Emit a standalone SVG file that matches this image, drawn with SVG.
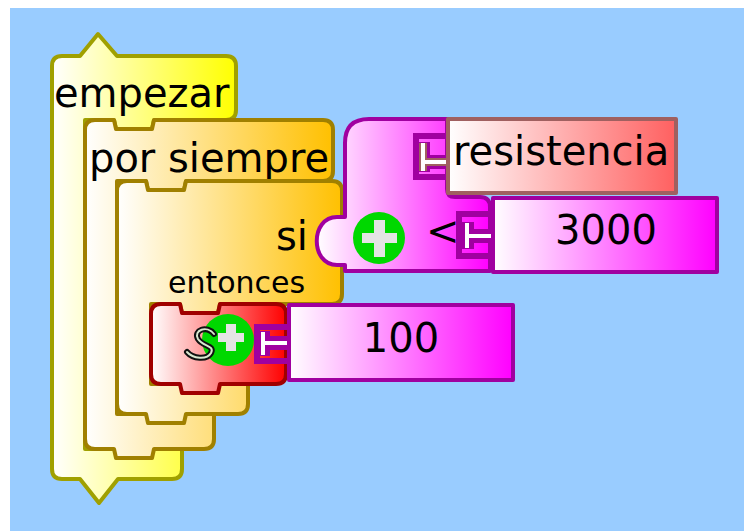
<svg xmlns="http://www.w3.org/2000/svg" width="744" height="531" viewBox="0 0 744 531">
<defs>
<linearGradient id="gY" x1="0" y1="0" x2="1" y2="0"><stop offset="0" stop-color="#ffffff"/><stop offset="1" stop-color="#ffff00"/></linearGradient>
<linearGradient id="gO" x1="0" y1="0" x2="1" y2="0"><stop offset="0" stop-color="#ffffff"/><stop offset="1" stop-color="#ffc000"/></linearGradient>
<linearGradient id="gR" x1="0" y1="0" x2="1" y2="0"><stop offset="0" stop-color="#ffffff"/><stop offset="1" stop-color="#ff0000"/></linearGradient>
<linearGradient id="gM" x1="0" y1="0" x2="1" y2="0"><stop offset="0" stop-color="#ffffff"/><stop offset="1" stop-color="#ff00ff"/></linearGradient>
<linearGradient id="gS" x1="0" y1="0" x2="1" y2="0"><stop offset="0" stop-color="#ffffff"/><stop offset="1" stop-color="#ff6060"/></linearGradient>
</defs>
<style>
.t{font-family:"DejaVu Sans","Liberation Sans",sans-serif;font-size:40px;fill:#000}
.ts{font-size:30px}
.blk{stroke-width:4;stroke-linejoin:round}
.yel{fill:url(#gY);stroke:#a0a000}
.org{fill:url(#gO);stroke:#a08000}
.red{fill:url(#gR);stroke:#a00000}
.mag{fill:url(#gM);stroke:#a000a0}
.sen{fill:url(#gS);stroke:#a06060}
.brk{fill:none;stroke:#a000a0;stroke-width:6}
.ring{fill:none;stroke:#a000a0;stroke-width:14}
.ringS{fill:none;stroke:#a06060;stroke-width:8}
.core{fill:none;stroke:#ffffff;stroke-width:4}
.plus{fill:#00d800}
.cross{fill:#e4e4e4}
</style>
<rect x="0" y="0" width="744" height="531" fill="#ffffff"/>
<rect x="10" y="8" width="734" height="523" fill="#99ccff"/>

<g id="n-empezar">
<path class="blk yel" d="M52,66 Q52,56 62,56 H80 L98,34 L117,56 H226 Q236,56 236,66 V110 Q236,120 226,120 H154 L152,129 H116 L114,120 H85 V449 H182 V469 Q182,479 172,479 H118 L99,503 L80,479 H62 Q52,479 52,469 Z"/>
<text class="t" x="54" y="107">empezar</text>
</g>

<g id="n-porsiempre">
<path class="blk org" d="M85,130 Q85,120 95,120 H114 L116,129 H152 L154,120 H323 Q333,120 333,130 V171 Q333,181 323,181 H186 L184,190 H148 L146,181 H117 V414 H214 V439 Q214,449 204,449 H154 L152,458 H116 L114,449 H95 Q85,449 85,439 Z"/>
<text class="t" x="89" y="172">por siempre</text>
</g>

<g id="n-si">
<path class="blk org" d="M117,191 Q117,181 127,181 H146 L148,190 H184 L186,181 H332 Q342,181 342,191 V294 Q342,304 332,304 H220 L218,313 H182 L180,304 H151 V384 H248 V404 Q248,414 238,414 H186 L184,423 H148 L146,414 H127 Q117,414 117,404 Z"/>
<text class="t" x="276" y="250">si</text>
<text class="t ts" x="168" y="293">entonces</text>
</g>

<g id="n-python">
<path class="blk red" d="M151,314 Q151,304 161,304 H180 L182,313 H218 L220,304 H276 Q286,304 286,314 V374 Q286,384 276,384 H220 L218,393 H182 L180,384 H161 Q151,384 151,374 Z"/>
<path class="brk" d="M287,327 H257 V361 H287"/>
<circle class="plus" cx="228" cy="340" r="26"/>
<rect class="cross" x="218" y="333" width="26" height="9"/>
<rect class="cross" x="226" y="324" width="10" height="27"/>
<path d="M214,334 C207,325 193,330 198,339 C203,347 215,345 211,353 C207,360 193,359 187,352" fill="none" stroke="#111" stroke-width="6" stroke-linecap="round"/>
<path d="M214,334 C207,325 193,330 198,339 C203,347 215,345 211,353 C207,360 193,359 187,352" fill="none" stroke="#d8e8d0" stroke-width="2" stroke-linecap="round"/>
</g>

<g id="n-less">
<path class="blk mag" d="M345,143 Q345,119 369,119 H447 V189 Q447,197 455,197 H480 Q490,197 490,207 V271 H345 V265 H337 C310,265 310,217 337,217 H345 Z"/>
<path class="brk" d="M447,136 H416 V177 H447"/>
<path class="brk" d="M490,214 H459 V256 H490"/>
<circle class="plus" cx="379" cy="238" r="26"/>
<rect class="cross" x="362" y="233" width="35" height="10"/>
<rect class="cross" x="374" y="220" width="11" height="37"/>
<text class="t" x="426" y="245">&lt;</text>
</g>

<g id="n-resistencia">
<path class="ring" d="M450,162 H423 M423,142 V172"/>
<path class="ringS" d="M450,162 H423 M423,143 V171"/>
<path class="core" d="M450,162 H423 M423,143 V171"/>
<rect class="blk sen" x="448" y="119" width="228" height="74"/>
<text class="t" x="453" y="165">resistencia</text>
</g>

<g id="n-3000">
<path class="ring" d="M495,236 H467 M467,222 V249"/>
<path class="core" d="M495,236 H467 M467,223 V248"/>
<rect class="blk mag" x="493" y="198" width="224" height="74"/>
<text class="t" x="606" y="244" text-anchor="middle">3000</text>
</g>

<g id="n-100">
<path class="ring" d="M291,343 H263 M263,331 V356"/>
<path class="core" d="M291,343 H263 M263,332 V355"/>
<rect class="blk mag" x="289" y="305" width="224" height="75"/>
<text class="t" x="401" y="352" text-anchor="middle">100</text>
</g>
</svg>
